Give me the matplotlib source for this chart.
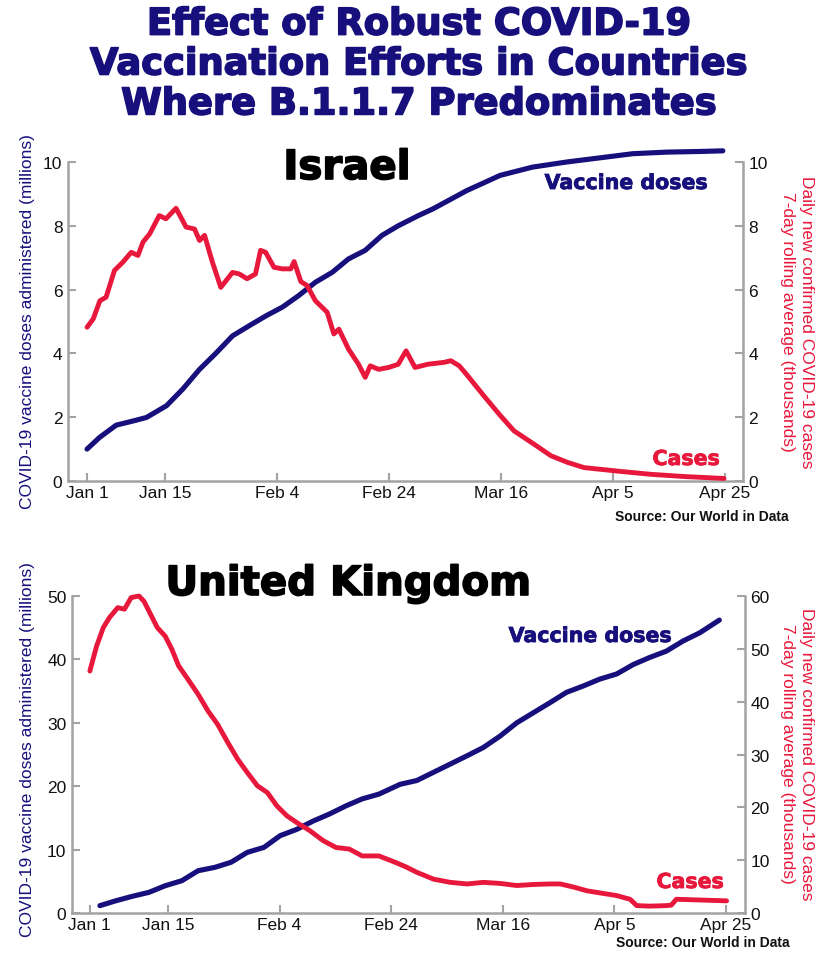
import matplotlib
matplotlib.use("Agg")
import matplotlib.pyplot as plt
import matplotlib.patheffects as pe

# ---------------- data ----------------
tick_days = [0, 14, 34, 54, 74, 94, 114]
tick_labels = ["Jan 1", "Jan 15", "Feb 4", "Feb 24", "Mar 16", "Apr 5", "Apr 25"]

# Israel: vaccine doses (millions) by day since Jan 1
isr_vax_days = [0, 2.2, 5.2, 8.2, 10.6, 14.2, 17.1, 20.1, 23.0, 26, 29, 32, 34.9, 37.8,
                40.8, 43.8, 46.7, 49.7, 52.7, 55.6, 59.2, 61.8, 67.8, 73.8, 79.6, 85.7,
                91.6, 97.5, 103.6, 109.5, 113.6]
isr_vax = [1.0, 1.36, 1.75, 1.88, 1.99, 2.36, 2.88, 3.5, 4.0, 4.55, 4.87, 5.18, 5.45, 5.81,
           6.23, 6.54, 6.96, 7.23, 7.7, 8.0, 8.32, 8.53, 9.1, 9.58, 9.84, 10.0,
           10.13, 10.26, 10.31, 10.33, 10.35]

# Israel: daily cases 7-day avg (thousands)
isr_case_days = [0, 1.1, 2.3, 3.4, 4.9, 6.4, 7.9, 9.1, 10.0, 11.2, 12.9, 14.1, 15.9, 17.7,
                 19.2, 20.1, 21.0, 22.4, 23.9, 26, 27.2, 28.6, 30.1, 31.0, 31.9, 33.4,
                 34.9, 36.4, 37.0, 38.2, 39.3, 40.8, 42.9, 44.1, 45.0, 46.7, 48.5, 49.7,
                 50.6, 52.1, 53.9, 55.6, 57.0, 58.6, 60.9, 63.8, 65.0, 66.5, 68.0, 70.9,
                 73.9, 76.3, 79.9, 82.9, 85.9, 88.8, 94.8, 100.7, 106.7, 113.8]
isr_cases = [4.82, 5.08, 5.65, 5.76, 6.6, 6.86, 7.17, 7.07, 7.49, 7.75, 8.32, 8.22, 8.55, 7.96,
             7.9, 7.54, 7.7, 6.86, 6.07, 6.54, 6.49, 6.34, 6.49, 7.23, 7.17, 6.7,
             6.65, 6.65, 6.88, 6.25, 6.13, 5.65, 5.29, 4.61, 4.76, 4.14, 3.66, 3.25,
             3.61, 3.5, 3.56, 3.66, 4.08, 3.56, 3.66, 3.72, 3.77, 3.61, 3.3, 2.67,
             2.04, 1.57, 1.15, 0.79, 0.58, 0.42, 0.31, 0.21, 0.14, 0.08]

# United Kingdom: vaccine doses (millions)
uk_vax_days = [1.8, 4.7, 7.6, 10.6, 13.5, 16.5, 19.4, 22.4, 25.3, 28.2, 31.2, 34.1, 37.1,
               40.0, 42.9, 45.9, 48.8, 51.8, 55.6, 58.6, 61.6, 64.6, 67.6, 70.5, 73.5,
               76.5, 79.5, 82.5, 85.4, 88.4, 91.4, 94.4, 97.4, 100.3, 103.3, 106.3,
               109.3, 112.8]
uk_vax = [1.16, 1.94, 2.63, 3.26, 4.3, 5.1, 6.67, 7.2, 8.0, 9.56, 10.35, 12.2, 13.2,
          14.5, 15.6, 16.9, 18.0, 18.75, 20.3, 20.9, 22.2, 23.5, 24.8, 26.1, 27.9,
          30.0, 31.6, 33.2, 34.8, 35.8, 36.9, 37.7, 39.2, 40.3, 41.3, 42.9,
          44.2, 46.2]

# United Kingdom: daily cases 7-day avg (thousands)
uk_case_days = [0, 1.2, 2.4, 3.5, 5.0, 6.2, 7.4, 8.8, 9.7, 10.9, 12.1, 13.5, 14.7, 15.9,
                17.6, 19.4, 21.2, 22.9, 24.7, 26.5, 28.2, 30.0, 31.8, 33.5, 35.3, 37.1,
                39.4, 41.8, 44.1, 46.5, 48.8, 51.8, 54.7, 56.5, 58.6, 61.6, 64.6, 67.6,
                70.5, 73.5, 76.5, 79.5, 82.5, 84.3, 86.7, 89.1, 91.4, 94.4, 96.8, 98.0,
                100.3, 103.3, 104.2, 105.1, 108.1, 114.1]
uk_cases = [45.8, 50.5, 54.0, 55.9, 57.8, 57.5, 59.7, 60.0, 59.0, 56.5, 54.0, 52.4, 49.9, 46.8,
            44.2, 41.4, 38.2, 35.7, 32.3, 29.1, 26.6, 24.1, 22.8, 20.3, 18.4, 17.1,
            15.6, 13.7, 12.4, 12.1, 10.8, 10.8, 9.6, 8.8, 7.7, 6.4, 5.8, 5.5,
            5.8, 5.6, 5.2, 5.4, 5.5, 5.5, 4.9, 4.2, 3.8, 3.3, 2.6, 1.4,
            1.3, 1.4, 1.5, 2.6, 2.5, 2.3]

isr_left_ticks = [0, 2, 4, 6, 8, 10]
isr_right_ticks = [0, 2, 4, 6, 8, 10]
uk_left_ticks = [0, 10, 20, 30, 40, 50]
uk_right_ticks = [0, 10, 20, 30, 40, 50, 60]

title_text = "Effect of Robust COVID-19\nVaccination Efforts in Countries\nWhere B.1.1.7 Predominates"
left_label = "COVID-19 vaccine doses administered (millions)"
right_label = "Daily new confirmed COVID-19 cases\n7-day rolling average (thousands)"
source_text = "Source: Our World in Data"

# ---------------- style ----------------
W, H = 825, 954
NAVY = "#17107c"
RED = "#e8183c"
SPINE = "#a3a3a3"
BASE = "Liberation Sans"
HEAVY = "DejaVu Sans"

fig = plt.figure(figsize=(W / 100, H / 100), dpi=100)
fig.patch.set_facecolor("white")


def fx(x):
    return x / W


def fy(y):
    return 1 - y / H


def heavy(color, w=0.9):
    return [pe.withStroke(linewidth=w, foreground=color)]


def panel(px_left, px_right, px_bottom, px_top, xlim, vd, vv, cd, cv,
          lticks, rticks, name, name_xy, vlabel_xy, clabel_xy, src_xy,
          llabel_xy, rlabel_xy):
    ax = fig.add_axes([fx(px_left), fy(px_bottom), (px_right - px_left) / W,
                       (px_bottom - px_top) / H])
    ax2 = ax.twinx()
    ax.set_xlim(*xlim)
    ax.set_ylim(lticks[0], lticks[-1])
    ax2.set_ylim(rticks[0], rticks[-1])
    ax.plot(vd, vv, color=NAVY, lw=3.7, solid_capstyle="round", clip_on=False, zorder=3)
    ax2.plot(cd, cv, color=RED, lw=3.5, solid_capstyle="round", clip_on=False, zorder=3)

    for s in ["top", "right"]:
        ax.spines[s].set_visible(False)
    for s in ["top", "left", "bottom"]:
        ax2.spines[s].set_visible(False)
    for s in [ax.spines["left"], ax.spines["bottom"], ax2.spines["right"]]:
        s.set_color(SPINE)
        s.set_linewidth(1.8)

    ax.set_xticks(tick_days)
    ax.set_xticklabels(tick_labels)
    ax.set_yticks(lticks)
    ax2.set_yticks(rticks)
    for a in (ax, ax2):
        a.tick_params(direction="in", length=6, width=1.5, color=SPINE,
                      labelsize=12.5, labelcolor="#111111", pad=4)
        for lab in a.get_xticklabels() + a.get_yticklabels():
            lab.set_fontfamily(BASE)
    ax.tick_params(axis="x", pad=3)

    fig.text(fx(name_xy[0]), fy(name_xy[1]), name, family=HEAVY, fontweight="bold",
             fontsize=29, color="black", ha="center", va="center",
             path_effects=heavy("black", 1.2))
    fig.text(fx(vlabel_xy[0]), fy(vlabel_xy[1]), "Vaccine doses", family=HEAVY,
             fontweight="bold", fontsize=14.8, color=NAVY, ha="center", va="center",
             path_effects=heavy(NAVY, 0.6))
    fig.text(fx(clabel_xy[0]), fy(clabel_xy[1]), "Cases", family=HEAVY,
             fontweight="bold", fontsize=14.8, color=RED, ha="center", va="center",
             path_effects=heavy(RED, 0.6))
    fig.text(fx(src_xy[0]), fy(src_xy[1]), source_text, family=BASE, fontweight="bold",
             fontsize=10, color="#111111", ha="center", va="center")
    fig.text(fx(llabel_xy[0]), fy(llabel_xy[1]), left_label, family=BASE, fontsize=12.5,
             color=NAVY, rotation=90, ha="center", va="center")
    fig.text(fx(rlabel_xy[0]), fy(rlabel_xy[1]), right_label, family=BASE, fontsize=12.5,
             color=RED, rotation=-90, ha="center", va="center", linespacing=1.3,
             multialignment="center")
    return ax, ax2


panel(68, 743, 482, 163, (-3.4, 117.2), isr_vax_days, isr_vax, isr_case_days, isr_cases,
      isr_left_ticks, isr_right_ticks, "Israel", (347, 169), (626, 184), (686, 460),
      (702, 517), (28, 322), (797, 322))

panel(72, 745, 914, 597, (-3.2, 117.4), uk_vax_days, uk_vax, uk_case_days, uk_cases,
      uk_left_ticks, uk_right_ticks, "United Kingdom", (348, 585), (590, 637), (690, 883),
      (703, 943), (28, 750), (797, 754))

fig.text(fx(419), fy(65), title_text, family=HEAVY, fontweight="bold", fontsize=26.5,
         color=NAVY, ha="center", va="center", linespacing=1.1,
         path_effects=heavy(NAVY, 1.2))

fig.savefig("out.png", dpi=100, facecolor="white")
